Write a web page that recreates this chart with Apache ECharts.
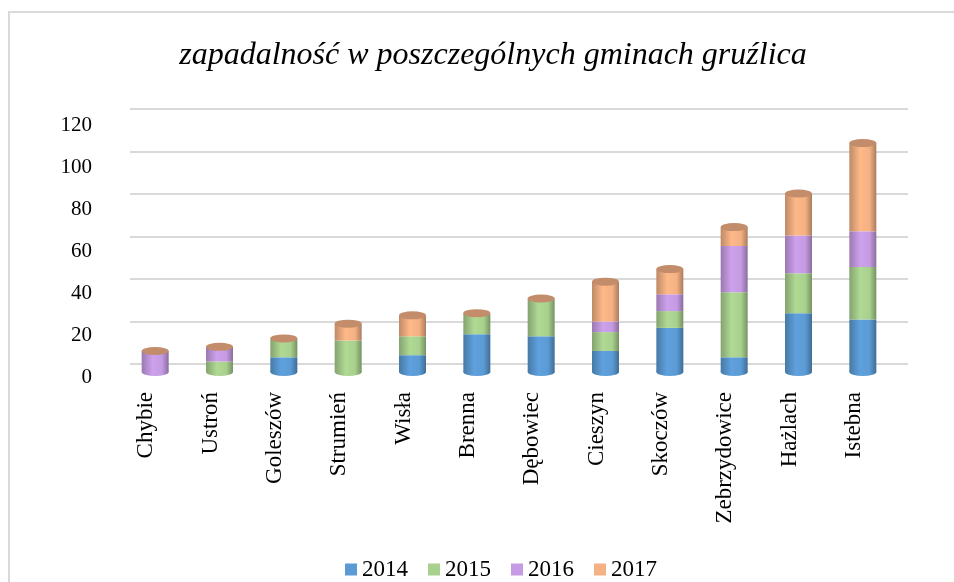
<!DOCTYPE html>
<html>
<head>
    <meta charset="utf-8">
    <title>zapadalnosc gruzlica</title>
    <script src="https://cdn.jsdelivr.net/npm/echarts@6/dist/echarts.min.js"></script>
    <style>
        html, body { margin: 0; padding: 0; background: #fff; }
        #main { width: 954px; height: 582px; }
    </style>
</head>
<body>
    <div id="main"></div>
    <script type="text/javascript">
        // gminy + values per year
        var gminy = ['Chybie', 'Ustroń', 'Goleszów', 'Strumień', 'Wisła', 'Brenna', 'Dębowiec', 'Cieszyn', 'Skoczów', 'Zebrzydowice', 'Hażlach', 'Istebna'];
        var lata = ['2014', '2015', '2016', '2017'];
        var v2014 = [0, 0, 7, 0, 8, 18, 17, 10, 21, 7, 28, 25];
        var v2015 = [0, 5, 9, 15, 9, 10, 18, 9, 8, 31, 19, 25];
        var v2016 = [10, 7, 0, 0, 0, 0, 0, 5, 8, 22, 18, 17];
        var v2017 = [0, 0, 0, 8, 10, 0, 0, 19, 12, 9, 20, 42];
        var yTicks = [0, 20, 40, 60, 80, 100, 120];

        var kolory = ['#5b9bd5', '#a9d18e', '#c59be3', '#f4b183'];
        var FONT = 'Liberation Serif';

        var myChart = echarts.init(document.getElementById('main'));

        // darken / lighten hex colour
        function shade(hex, f) {
            var n = parseInt(hex.slice(1), 16);
            var r = Math.min(255, Math.round(((n >> 16) & 255) * f));
            var g = Math.min(255, Math.round(((n >> 8) & 255) * f));
            var b = Math.min(255, Math.round((n & 255) * f));
            return 'rgb(' + r + ',' + g + ',' + b + ')';
        }
        // cylinder look
        function cyl(hex) {
            return new echarts.graphic.LinearGradient(0, 0, 1, 0, [
                { offset: 0, color: shade(hex, 0.78) },
                { offset: 0.4, color: shade(hex, 1.04) },
                { offset: 0.75, color: hex },
                { offset: 1, color: shade(hex, 0.7) }
            ]);
        }

        var dane = [v2014, v2015, v2016, v2017];
        var sumy = gminy.map(function (g, i) {
            return v2014[i] + v2015[i] + v2016[i] + v2017[i];
        });
        // bottom cap colour = first non-empty year
        var spody = gminy.map(function (g, i) {
            var k = 0;
            while (k < 3 && dane[k][i] === 0) k++;
            return { value: sumy[i], itemStyle: { color: cyl(kolory[k]) } };
        });

        var series = lata.map(function (rok, k) {
            return {
                name: rok,
                type: 'bar',
                stack: 'all',
                barWidth: 27,
                z: 3,
                itemStyle: { color: cyl(kolory[k]) },
                data: dane[k]
            };
        });
        series.push({
            type: 'pictorialBar',
            symbol: 'circle',
            symbolSize: [27, 8],
            symbolPosition: 'start',
            symbolOffset: [0, '50%'],
            z: 2,
            silent: true,
            data: spody
        });
        series.push({
            type: 'pictorialBar',
            symbol: 'circle',
            symbolSize: [27, 8],
            symbolPosition: 'end',
            symbolOffset: [0, '-50%'],
            z: 4,
            silent: true,
            itemStyle: { color: '#c38d6b' },
            data: sumy
        });
        // back wall gridlines
        series.push({ type: 'line', xAxisIndex: 1, yAxisIndex: 1, data: [], silent: true });

        var option = {
            backgroundColor: '#fff',
            animation: false,
            graphic: [{
                type: 'rect',
                shape: { x: 9, y: 12, width: 1000, height: 620 },
                style: { fill: 'none', stroke: '#d9d9d9', lineWidth: 2 },
                z: 0
            }],
            title: {
                text: 'zapadalność w poszczególnych gminach gruźlica',
                left: 488,
                textAlign: 'center',
                top: 35,
                textStyle: { fontFamily: FONT, fontStyle: 'italic', fontWeight: 'normal', fontSize: 32, color: '#000' }
            },
            legend: {
                data: lata.map(function (rok, k) {
                    return { name: rok, itemStyle: { color: kolory[k] } };
                }),
                top: 553,
                left: 340,
                itemWidth: 12,
                itemHeight: 12,
                itemGap: 20,
                icon: 'rect',
                textStyle: { fontFamily: FONT, fontSize: 23, color: '#000' }
            },
            grid: [
                { left: 123, right: 59, top: 120, bottom: 210 },   // bars
                { left: 130, right: 46, top: 109, bottom: 218 },   // back wall
                { left: 114, right: 68, top: 125, bottom: 205 }    // labels
            ],
            xAxis: [
                { type: 'category', gridIndex: 0, data: gminy, show: false },
                { type: 'category', gridIndex: 1, data: gminy, show: false },
                {
                    type: 'category', gridIndex: 2, data: gminy,
                    axisLine: { show: false }, axisTick: { show: false },
                    axisLabel: { rotate: 90, margin: 15, interval: 0, fontFamily: FONT, fontSize: 23, color: '#000' }
                }
            ],
            yAxis: [
                { type: 'value', gridIndex: 0, min: 0, max: 120, show: false },
                {
                    type: 'value', gridIndex: 1, min: 0, max: 120, interval: 20,
                    axisLine: { show: false }, axisTick: { show: false }, axisLabel: { show: false },
                    splitLine: { lineStyle: { color: '#d9d9d9', width: 2 } }
                },
                {
                    type: 'value', gridIndex: 2, min: yTicks[0], max: yTicks[yTicks.length - 1], interval: 20,
                    axisLine: { show: false }, axisTick: { show: false }, splitLine: { show: false },
                    axisLabel: { margin: 22, fontFamily: FONT, fontSize: 21, color: '#000' }
                }
            ],
            series: series
        };
        myChart.setOption(option);
    </script>
</body>
</html>
